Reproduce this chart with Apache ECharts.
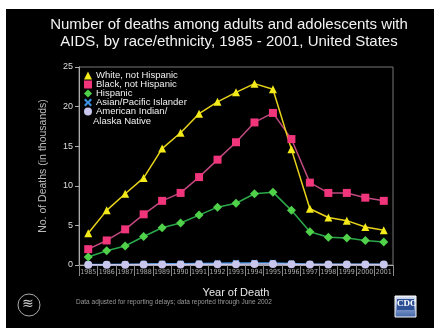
<!DOCTYPE html>
<html><head><meta charset="utf-8">
<script src="https://cdn.jsdelivr.net/npm/echarts@6/dist/echarts.min.js"></script>
<style>html,body{margin:0;padding:0;background:#fff}#c{width:434px;height:328px}</style>
</head><body><div id="c"></div>
<script>
var years = ['1985','1986','1987','1988','1989','1990','1991','1992','1993','1994','1995','1996','1997','1998','1999','2000','2001'];
var white = [4.0, 6.9, 9.0, 11.0, 14.7, 16.7, 19.1, 20.6, 21.8, 22.9, 22.2, 14.6, 7.1, 6.0, 5.6, 4.8, 4.4];
var black = [2.0, 3.1, 4.5, 6.4, 8.1, 9.1, 11.1, 13.3, 15.5, 18.0, 19.2, 15.9, 10.4, 9.1, 9.1, 8.5, 8.1];
var hispanic = [1.0, 1.8, 2.4, 3.6, 4.7, 5.3, 6.3, 7.3, 7.8, 9.0, 9.2, 6.9, 4.2, 3.5, 3.4, 3.1, 2.9];
var asian = [0.05, 0.07, 0.1, 0.12, 0.15, 0.17, 0.2, 0.22, 0.24, 0.26, 0.25, 0.18, 0.11, 0.09, 0.08, 0.08, 0.08];
var amIndian = [0.02, 0.03, 0.04, 0.05, 0.06, 0.07, 0.08, 0.09, 0.1, 0.12, 0.12, 0.1, 0.07, 0.06, 0.06, 0.06, 0.06];
var yTicks = [0, 5, 10, 15, 20, 25];

var xMark = 'path://M2,0 L5,3 L8,0 L10,2 L7,5 L10,8 L8,10 L5,7 L2,10 L0,8 L3,5 L0,2 Z';
var chart = echarts.init(document.getElementById('c'));
function ser(name, data, sym, col, lineCol, size) {
  return {name: name, type: 'line', data: data, symbol: sym, symbolSize: size, showSymbol: true,
    itemStyle: {color: col}, lineStyle: {color: lineCol, width: 1.5}, emphasis: {disabled: true}, animation: false};
}
chart.setOption({
  backgroundColor: '#ffffff',
  animation: false,
  graphic: [
    {type: 'rect', z: -10, shape: {x: 6, y: 9, width: 428, height: 319}, style: {fill: '#000'}},
    {type: 'text', left: 93, top: 116, z: 10, style: {text: 'Alaska Native', fill: '#f0f0f0', fontSize: 9.5, fontFamily: 'Liberation Sans, sans-serif'}},
    {type: 'text', left: 76, top: 299, z: 10, style: {text: 'Data adjusted for reporting delays; data reported through June 2002', fill: '#999', fontSize: 6.5, fontFamily: 'Liberation Sans, sans-serif'}},
    {type: 'circle', z: 10, shape: {cx: 29, cy: 305, r: 11}, style: {fill: 'none', stroke: '#aaa', lineWidth: 1}},
    {type: 'text', left: 22, top: 297, z: 11, style: {text: '≋', fill: '#ccc', fontSize: 14}},
    {type: 'rect', z: 10, shape: {x: 395, y: 296, width: 21, height: 21}, style: {fill: new echarts.graphic.LinearGradient(0,0,0,1,[{offset:0,color:'#dfe6f5'},{offset:1,color:'#3d63a8'}]), stroke: '#fff', lineWidth: 1}},
    {type: 'rect', z: 11, shape: {x: 397, y: 299, width: 17, height: 11}, style: {fill: '#2d4f96'}},
    {type: 'text', left: 397, top: 299, z: 12, style: {text: 'CDC', fill: '#fff', fontSize: 9, fontWeight: 'bold', fontFamily: 'Liberation Serif, serif'}}
  ],
  title: {
    text: 'Number of deaths among adults and adolescents with\nAIDS, by race/ethnicity, 1985 - 2001, United States',
    left: 224, top: 11, textAlign: 'center',
    textStyle: {color: '#f2f2f2', fontSize: 15, fontWeight: 'normal', lineHeight: 17, fontFamily: 'Liberation Sans, sans-serif'}
  },
  legend: {
    orient: 'vertical', left: 84, top: 70.5, padding: 0, itemWidth: 8, itemHeight: 8, itemGap: -1,
    textStyle: {color: '#f0f0f0', fontSize: 9.5, lineHeight: 8, fontFamily: 'Liberation Sans, sans-serif', padding: [0, 0, 0, -1]},
    formatter: function (n) { return n === 'American Indian/Alaska Native' ? 'American Indian/' : n; },
    data: [
      {name: 'White, not Hispanic', icon: 'triangle'},
      {name: 'Black, not Hispanic', icon: 'rect'},
      {name: 'Hispanic', icon: 'diamond'},
      {name: 'Asian/Pacific Islander', icon: xMark},
      {name: 'American Indian/Alaska Native', icon: 'circle'}
    ]
  },
  grid: {left: 79, right: 41, top: 67, bottom: 63, show: true, borderColor: '#777', borderWidth: 1, backgroundColor: 'transparent'},
  xAxis: {
    type: 'category', data: years, boundaryGap: true,
    name: 'Year of Death', nameLocation: 'middle', nameGap: 22,
    nameTextStyle: {color: '#e8e8e8', fontSize: 11, fontFamily: 'Liberation Sans, sans-serif'},
    axisLine: {lineStyle: {color: '#aaa'}},
    axisTick: {show: true, length: 11, lineStyle: {color: '#888'}},
    axisLabel: {color: '#aaa', fontSize: 7, margin: 4, interval: 0, fontFamily: 'Liberation Sans Narrow, DejaVu Sans Condensed, sans-serif'},
    splitLine: {show: false}
  },
  yAxis: {
    type: 'value', min: 0, max: 25, interval: 5,
    name: 'No. of Deaths (in thousands)', nameLocation: 'middle', nameGap: 30,
    nameTextStyle: {color: '#bbb', fontSize: 10.5, fontFamily: 'Liberation Sans, sans-serif'},
    axisLine: {show: true, lineStyle: {color: '#aaa'}},
    axisTick: {show: true, length: 4, lineStyle: {color: '#aaa'}},
    axisLabel: {color: '#ddd', fontSize: 9, margin: 6, fontFamily: 'Liberation Sans, sans-serif',
      formatter: function (v) { return yTicks.indexOf(v) >= 0 ? String(v) : ''; }},
    splitLine: {show: false}
  },
  series: [
    ser('Asian/Pacific Islander', asian, xMark, '#3a8ee0', '#3a8ee0', 7),
    ser('American Indian/Alaska Native', amIndian, 'circle', '#c9c6ee', '#c9c6ee', 8),
    ser('Hispanic', hispanic, 'diamond', '#4fd24a', '#2aa84a', 9),
    ser('Black, not Hispanic', black, 'rect', '#f0357a', '#c04a80', 8),
    ser('White, not Hispanic', white, 'triangle', '#f4ea1a', '#e8d31a', 8)
  ]
});
</script></body></html>
